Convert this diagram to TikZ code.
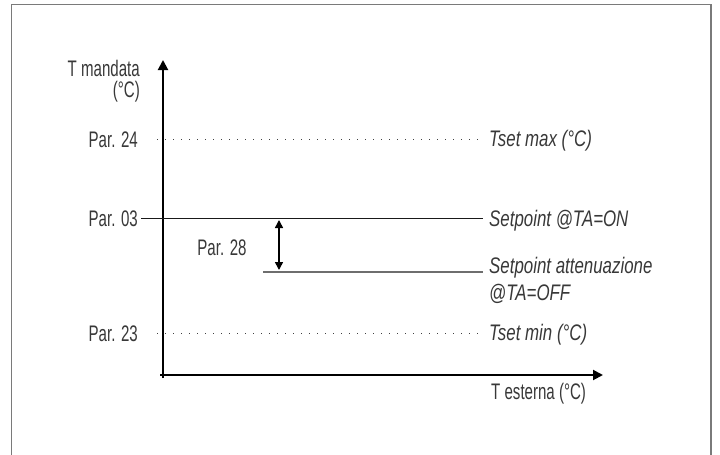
\documentclass[tikz,border=0pt]{standalone}
\usepackage{fontspec}
\usetikzlibrary{arrows.meta}
\newfontfamily\condf[FakeStretch=0.67]{Liberation Sans}
\newfontfamily\condi[FakeStretch=0.75]{Liberation Sans}
\definecolor{txt}{HTML}{383838}
\definecolor{framec}{HTML}{7A7A7A}
\definecolor{lowc}{HTML}{6E6E6E}
\begin{document}
\begin{tikzpicture}[x=1pt,y=-1pt,
  lbl/.style={inner sep=0pt, text=txt, font=\condf\fontsize{22.5}{27}\selectfont},
  ilbl/.style={inner sep=0pt, text=txt, align=left, font=\condi\itshape\fontsize{22.5}{27}\selectfont},
  axisline/.style={line width=2pt, -{Triangle[length=10pt,width=10pt]}},
  dotline/.style={line width=1pt, dash pattern=on 1pt off 7pt, color=black!75},
  setline/.style={line width=1pt, color=black!90},
  lowline/.style={line width=1.5pt, color=lowc},
  dimarrow/.style={line width=1.5pt, {Triangle[length=8pt,width=8pt]}-{Triangle[length=8pt,width=8pt]}},
  framestyle/.style={line width=1.3pt, color=framec}]
\useasboundingbox (0,0) rectangle (720,455);
% frame
\draw[framestyle] (11.5,455) -- (11.5,4.5) -- (711,4.5) -- (711,455);
% axes
\coordinate (ybot) at (163,378);
\coordinate (ytip) at (163,60);
\coordinate (xleft) at (160,375);
\coordinate (xtip) at (603,375);
\draw[axisline] (ybot) -- (ytip);
\draw[axisline] (xleft) -- (xtip);
% axis labels
\node[lbl, anchor=base east] (tm) at (140,76) {T mandata};
\node[lbl, anchor=base east] (tc) at (140,97) {(°C)};
\node[lbl, anchor=base west] (te) at (491,399) {T esterna (°C)};
% left labels
\node[lbl, anchor=base east] (p24) at (138,147) {Par. 24};
\node[lbl, anchor=base east] (p03) at (138,226) {Par. 03};
\node[lbl, anchor=base east] (p23) at (138,341) {Par. 23};
\node[lbl, anchor=base] (p28) at (222,255) {Par. 28};
% right labels
\node[ilbl, anchor=base west] (tmax) at (489,146) {Tset max (°C)};
\node[ilbl, anchor=base west] (son) at (489,226) {Setpoint @TA=ON};
\node[ilbl, anchor=base west] (soff) at (489,300) {Setpoint attenuazione\\@TA=OFF};
\node[ilbl, anchor=base west] (tmin) at (489,340) {Tset min (°C)};
% level lines
\coordinate (d24a) at (157,139.5);
\coordinate (d24b) at (483,139.5);
\coordinate (d23a) at (157,333);
\coordinate (d23b) at (483,333);
\coordinate (s03a) at (141,218);
\coordinate (s03b) at (483,218);
\coordinate (lowa) at (263,272);
\coordinate (lowb) at (483,272);
\draw[dotline] (d24a) -- (d24b);
\draw[dotline] (d23a) -- (d23b);
\draw[setline] (s03a) -- (s03b);
\draw[lowline] (lowa) -- (lowb);
% Par. 28 dimension arrow
\coordinate (dimtop) at (279,220);
\coordinate (dimbot) at (279,270);
\draw[dimarrow] (dimtop) -- (dimbot);
\end{tikzpicture}
\end{document}
